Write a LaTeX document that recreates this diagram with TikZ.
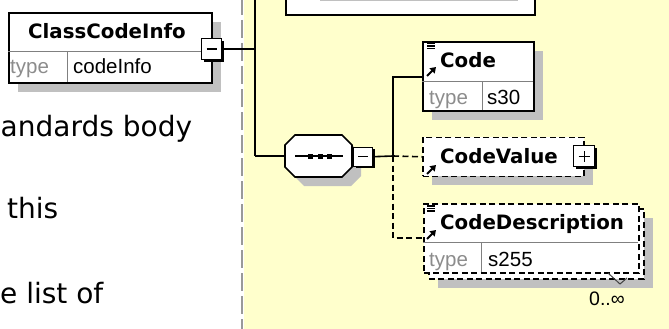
\documentclass[tikz,border=0pt]{standalone}
\usepackage{fontspec}
\setmainfont{DejaVu Sans}
\newfontfamily\xlib{Liberation Sans}
\newfontfamily\xdvs{DejaVu Sans}
\usetikzlibrary{arrows.meta,shadows}
\definecolor{bgyellow}{HTML}{FFFFCC}
\definecolor{shadowgray}{HTML}{C0C0C0}
\definecolor{typegray}{HTML}{8C8C8C}
\newcommand{\xtitlefont}{\xdvs\bfseries\fontsize{19.8}{24}\selectfont}
\newcommand{\xsmallfont}{\xlib\fontsize{20.5}{24}\selectfont}
\newcommand{\xbodyfont}{\xdvs\fontsize{28}{34}\selectfont}
\begin{document}
\begin{tikzpicture}[x=1pt,y=-1pt,
  plainbox/.style={draw, fill=white, line width=1.6pt, inner sep=0pt, anchor=north west},
  elbox/.style={plainbox, drop shadow={shadow xshift=9.5pt, shadow yshift=-9pt, fill=shadowgray, opacity=1}},
  optbox/.style={elbox, dash pattern=on 6pt off 3.5pt},
  pmbox/.style={draw, fill=white, line width=1.4pt, inner sep=0pt, anchor=north west,
     drop shadow={shadow xshift=2pt, shadow yshift=-2pt, fill=black, opacity=1}},
  divline/.style={draw=gray, line width=1pt},
  conn/.style={line width=1.6pt},
  optconn/.style={conn, dash pattern=on 6pt off 3.5pt},
  titletext/.style={font=\xtitlefont, anchor=base west, inner sep=0pt},
  typelbl/.style={font=\xsmallfont, text=typegray, anchor=base west, inner sep=0pt},
  typeval/.style={font=\xsmallfont, anchor=base west, inner sep=0pt},
  bodytext/.style={font=\xbodyfont, anchor=base west, inner sep=0pt},
  refarrow/.style={line width=1.9pt, -{Triangle[length=5.5pt,width=7pt]}},
  menuicon/.style={line width=1.2pt},
  pmsign/.style={line width=1.4pt}
]
\useasboundingbox (0,0) rectangle (669,329);
\clip (0,0) rectangle (669,329);
\fill[white] (0,0) rectangle (669,329);
\fill[bgyellow] (244,0) rectangle (669,329);
\draw[gray!80, line width=2pt, dash pattern=on 18pt off 5pt] (242,-3) -- (242,332);

% left text
\node[bodytext] (t1) at (0.5,136) {andards body};
\node[bodytext] (t2) at (7,218) {this};
\node[bodytext] (t3) at (0,303) {e list of};

% ClassCodeInfo
\node[elbox, minimum width=203pt, minimum height=70pt] (cci) at (8,12) {};
\draw[divline] (8,52) -- (211,52);
\draw[divline] (67,52) -- (67,82);
\node[titletext, anchor=base] (ccititle) at (107,38) {ClassCodeInfo};
\node[typelbl] (ccitype) at (10,74) {type};
\node[typeval] (ccival) at (73,74) {codeInfo};
\node[pmbox, minimum width=20pt, minimum height=21pt] (cciminus) at (201,38) {};
\draw[pmsign] ([xshift=-5pt]cciminus.center) -- ([xshift=5pt]cciminus.center);

% top box (partially visible)
\node[plainbox, minimum width=249pt, minimum height=40pt] (topbox) at (285,-26) {};
\draw[shadowgray, line width=2pt] (320,0.5) -- (518,0.5);

% connectors from ClassCodeInfo
\coordinate (jtop) at (255,-2);
\coordinate (jseq) at (255,156);
\draw[conn] (cciminus.east) -- (cciminus.east -| jtop);
\draw[conn] (jtop) -- (jseq);

% sequence compositor
\fill[shadowgray] (294,154) -- (304,144) -- (351,144) -- (361,154) -- (361,176) -- (351,186) -- (304,186) -- (294,176) -- cycle;
\node[inner sep=0pt, minimum width=67pt, minimum height=42pt] (seq) at (318.5,156) {};
\draw[fill=white, line width=1.6pt] (285,145) -- (295,135) -- (342,135) -- (352,145) -- (352,167) -- (342,177) -- (295,177) -- (285,167) -- cycle;
\draw[line width=1.5pt] (295,156) -- (343,156);
\fill (308,153.5) rectangle (313,158.5);
\fill (318,153.5) rectangle (323,158.5);
\fill (327,153.5) rectangle (332,158.5);
\draw[conn] (jseq) -- (seq.west);
\node[pmbox, minimum width=19pt, minimum height=19pt] (seqminus) at (353,146.5) {};
\draw[pmsign] ([xshift=-5pt]seqminus.center) -- ([xshift=5pt]seqminus.center);

\coordinate (jbr) at (393,156);
\coordinate (codein) at (422,77);
\coordinate (cdin) at (423,238);
\draw[conn] (seqminus.east) -- (jbr);
\draw[conn] (jbr) |- (codein);

% Code
\node[elbox, minimum width=111pt, minimum height=69pt] (code) at (422,41) {};
\draw[divline] (422,81) -- (533,81);
\draw[divline] (482,81) -- (482,110);
\draw[menuicon] (427,43.5) -- (435,43.5) (427,46) -- (435,46) (427,48.5) -- (435,48.5);
\draw[refarrow] (427,76) -- (436,67);
\node[titletext] (codetitle) at (440,67.5) {Code};
\node[typelbl] (codetype) at (429,104) {type};
\node[typeval] (codeval) at (487,104) {s30};

% CodeValue
\node[optbox, minimum width=161pt, minimum height=39pt] (cv) at (422,136.5) {};
\draw[refarrow] (427,174) -- (436,165);
\node[titletext] (cvtitle) at (440,163) {CodeValue};
\node[pmbox, minimum width=21pt, minimum height=21pt] (cvplus) at (573,145) {};
\draw[pmsign] ([xshift=-5.5pt]cvplus.center) -- ([xshift=5.5pt]cvplus.center);
\draw[pmsign] ([yshift=-5.5pt]cvplus.center) -- ([yshift=5.5pt]cvplus.center);
\draw[optconn] (jbr) -- (cv.west);

% CodeDescription (multiple)
\node[optbox, minimum width=215pt, minimum height=70pt] (cdback) at (428,208) {};
\node[plainbox, dash pattern=on 6pt off 3.5pt, minimum width=215pt, minimum height=69pt] (cd) at (423,203) {};
\draw[divline] (423,242) -- (638,242);
\draw[divline] (481,242) -- (481,272);
\draw[menuicon] (427,206) -- (435,206) (427,208.5) -- (435,208.5) (427,211) -- (435,211);
\draw[refarrow] (427,239) -- (436,230);
\node[titletext] (cdtitle) at (440,229) {CodeDescription};
\node[typelbl] (cdtype) at (429,266) {type};
\node[typeval] (cdval) at (488,266) {s255};
\draw[optconn] (jbr) |- (cdin);

% occurrence
\draw[line width=1pt, black!75] (608,273) -- (620,284) -- (627,278);
\node[font=\xlib\fontsize{19.5}{22}\selectfont, anchor=base, inner sep=0pt] (occ) at (607,305) {0..∞};
\end{tikzpicture}
\end{document}
